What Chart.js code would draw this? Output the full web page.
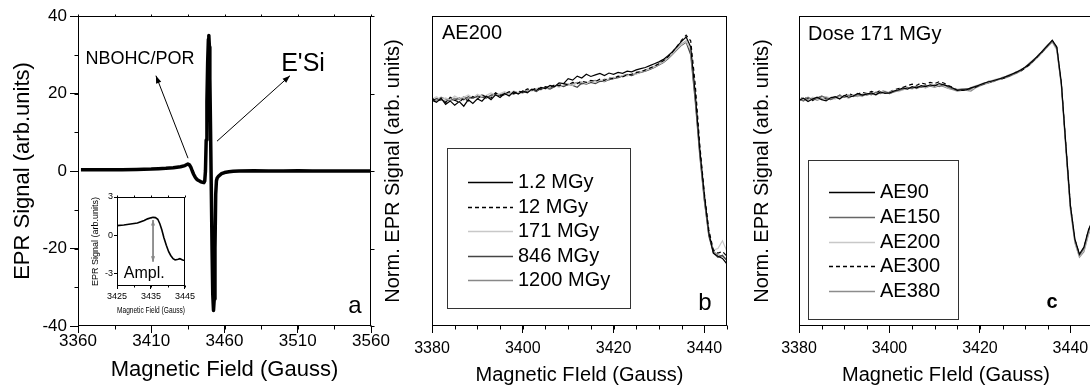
<!DOCTYPE html>
<html>
<head>
<meta charset="utf-8">
<script src="https://cdn.jsdelivr.net/npm/chart.js@4.4.0/dist/chart.umd.min.js"></script>
<style>
  html, body { margin: 0; padding: 0; background: #fff; overflow: hidden; width: 1090px; height: 392px; }
  canvas { position: absolute; top: 0; }
</style>
</head>
<body>
<canvas id="panelA" width="395" height="392" style="left:0;width:395px;height:392px"></canvas>
<canvas id="panelB" width="360" height="392" style="left:380px;width:360px;height:392px"></canvas>
<canvas id="panelC" width="360" height="392" style="left:740px;width:360px;height:392px"></canvas>
<canvas id="inset" width="114" height="128" style="left:84px;top:188px;width:114px;height:128px"></canvas>
<script>
// --- panel a: full spectrum ---
const fieldA = [3362, 3370, 3380, 3390, 3400, 3410, 3415, 3420, 3425, 3430, 3433, 3435, 3436, 3437, 3438,
  3439, 3440, 3441, 3442, 3443, 3444, 3445, 3446, 3446.5, 3447, 3447.5, 3448, 3448.5, 3449, 3449.3,
  3449.7, 3450, 3450.5, 3451, 3451.5, 3452, 3452.5, 3453, 3453.5, 3454, 3454.5, 3455, 3456, 3457, 3458,
  3460, 3463, 3466, 3470, 3480, 3490, 3500, 3510, 3520, 3530, 3540, 3550, 3560];
const signalA = [0.3, 0.3, 0.3, 0.35, 0.4, 0.5, 0.6, 0.7, 0.85, 1.1, 1.4, 1.8, 1.6, 1.0, 0.0,
  -0.9, -1.6, -2.1, -2.4, -2.6, -2.8, -2.9, -3.0, -2.6, 0, 8, 18, 28, 34, 35,
  32, 24, 10, -5, -20, -32, -36, -33, -20, -6, -2.5, -1.8, -1.3, -1.0, -0.7,
  -0.4, -0.2, -0.05, 0, 0.05, 0, 0, 0.05, 0, 0, 0, 0, 0];
const ticksAx = [3360, 3410, 3460, 3510, 3560];
const ticksAy = [-40, -20, 0, 20, 40];

// inset of panel a
const insetField = [3425, 3427, 3429, 3431, 3432, 3433, 3434, 3435, 3435.6, 3436.3, 3437, 3437.6,
  3438.2, 3438.8, 3439.5, 3440.2, 3440.8, 3441.5, 3442.1, 3443, 3443.5, 3444.3, 3445];
const insetSignal = [0.75, 0.8, 0.87, 0.95, 1.05, 1.15, 1.28, 1.36, 1.4, 1.38, 1.25, 0.9,
  0.4, -0.2, -0.8, -1.3, -1.6, -1.85, -1.95, -1.9, -1.85, -1.95, -2.0];
const ticksInsetX = [3425, 3435, 3445];
const ticksInsetY = [-3, 0, 3];

// --- panels b and c: normalised spectra ---
const fieldBC = [3380, 3381, 3382, 3383, 3384, 3385, 3386, 3387, 3388, 3389,
  3390, 3391, 3392, 3393, 3394, 3395, 3396, 3397, 3398, 3399,
  3400, 3401, 3402, 3403, 3404, 3405, 3406, 3407, 3408, 3409,
  3410, 3411, 3412, 3413, 3414, 3415, 3416, 3417, 3418, 3419,
  3420, 3421, 3422, 3423, 3424, 3425, 3426, 3427, 3428, 3429,
  3430, 3431, 3432, 3433, 3434, 3435, 3436, 3437, 3438, 3439,
  3440, 3441, 3442, 3443, 3444, 3445];
const ticksBCx = [3380, 3400, 3420, 3440];

const doseLabels = ['1.2 MGy', '12 MGy', '171 MGy', '846 MGy', '1200 MGy'];
const dose1_2 = [.728, .722, .735, .715, .726, .712, .724, .709, .73, .718,
  .733, .725, .741, .73, .746, .737, .75, .742, .756, .748,
  .758, .752, .764, .76, .77, .766, .776, .772, .784, .782,
  .798, .793, .806, .8, .812, .805, .81, .815, .808, .816,
  .812, .818, .815, .822, .82, .826, .83, .834, .84, .846,
  .852, .86, .872, .885, .902, .918, .932, .9, .75, .57,
  .425, .3, .235, .225, .218, .2];
const dose12 = [.735, .725, .73, .72, .738, .728, .722, .735, .726, .74,
  .732, .745, .738, .735, .752, .744, .748, .756, .75, .758,
  .754, .765, .76, .768, .764, .772, .769, .778, .775, .782,
  .778, .786, .782, .79, .786, .792, .789, .796, .792, .8,
  .798, .806, .804, .81, .812, .818, .82, .826, .832, .838,
  .846, .856, .868, .884, .902, .922, .938, .92, .78, .585,
  .43, .31, .245, .235, .24, .225];
const dose171 = [.732, .74, .728, .736, .73, .742, .734, .738, .745, .736,
  .748, .74, .744, .752, .745, .75, .756, .748, .758, .752,
  .756, .762, .758, .766, .77, .764, .772, .776, .77, .778,
  .782, .776, .784, .788, .782, .79, .786, .794, .79, .798,
  .8, .804, .808, .806, .814, .812, .82, .824, .83, .836,
  .844, .852, .864, .878, .894, .908, .918, .89, .745, .57,
  .42, .3, .245, .25, .275, .24];
const dose846 = [.726, .734, .73, .724, .732, .728, .736, .73, .74, .734,
  .742, .738, .735, .745, .748, .742, .746, .752, .748, .754,
  .752, .758, .762, .756, .766, .768, .764, .772, .776, .772,
  .78, .776, .77, .784, .78, .786, .782, .79, .788, .795,
  .798, .802, .806, .81, .808, .814, .818, .822, .828, .834,
  .842, .85, .862, .876, .892, .906, .915, .875, .725, .55,
  .405, .29, .235, .222, .228, .21];
const dose1200 = [.734, .728, .738, .732, .727, .735, .73, .74, .733, .737,
  .738, .746, .74, .742, .75, .746, .752, .748, .754, .75,
  .758, .754, .762, .766, .762, .77, .768, .774, .778, .774,
  .778, .782, .786, .78, .784, .79, .792, .788, .796, .794,
  .802, .8, .808, .812, .81, .816, .82, .826, .83, .838,
  .846, .854, .866, .88, .896, .91, .92, .885, .735, .56,
  .41, .295, .24, .23, .225, .215];

const aeLabels = ['AE90', 'AE150', 'AE200', 'AE300', 'AE380'];
const ae90 = [.728, .735, .724, .732, .738, .73, .726, .736, .74, .732,
  .744, .738, .742, .75, .745, .748, .752, .746, .755, .75,
  .752, .758, .762, .768, .764, .772, .768, .775, .772, .778,
  .775, .782, .778, .774, .768, .76, .762, .762, .768, .772,
  .778, .784, .788, .792, .796, .8, .806, .812, .818, .826,
  .835, .846, .86, .874, .89, .906, .922, .9, .785, .585,
  .39, .28, .232, .255, .31, .345];
const ae150 = [.732, .726, .738, .73, .734, .742, .736, .73, .738, .744,
  .738, .745, .74, .746, .742, .75, .746, .754, .75, .756,
  .75, .756, .76, .764, .77, .766, .774, .77, .776, .774,
  .778, .772, .78, .77, .765, .762, .764, .766, .764, .774,
  .776, .782, .79, .788, .795, .802, .804, .81, .82, .824,
  .836, .848, .858, .876, .888, .904, .918, .895, .78, .58,
  .385, .275, .228, .25, .305, .34];
const ae200 = [.735, .73, .728, .738, .734, .73, .74, .735, .732, .742,
  .74, .736, .746, .742, .74, .75, .748, .745, .752, .758,
  .754, .76, .756, .762, .768, .764, .77, .774, .77, .776,
  .772, .778, .775, .768, .766, .764, .765, .76, .77, .775,
  .78, .785, .786, .794, .798, .8, .808, .814, .816, .828,
  .834, .85, .862, .872, .892, .908, .916, .89, .775, .575,
  .38, .27, .225, .245, .3, .335];
const ae300 = [.73, .738, .733, .727, .736, .74, .732, .738, .735, .745,
  .742, .75, .744, .748, .754, .75, .757, .752, .76, .756,
  .755, .762, .766, .77, .775, .78, .776, .784, .78, .786,
  .782, .788, .784, .776, .77, .762, .76, .76, .766, .77,
  .776, .782, .786, .79, .796, .798, .804, .81, .816, .822,
  .832, .844, .858, .872, .888, .904, .92, .898, .782, .582,
  .388, .278, .23, .252, .308, .342];
const ae380 = [.726, .732, .73, .735, .728, .734, .738, .73, .736, .734,
  .74, .735, .744, .74, .748, .744, .75, .747, .752, .754,
  .75, .755, .758, .762, .766, .77, .766, .772, .768, .774,
  .77, .775, .772, .766, .762, .758, .76, .76, .758, .768,
  .774, .78, .784, .79, .794, .798, .802, .808, .815, .822,
  .832, .842, .856, .87, .886, .902, .916, .892, .776, .57,
  .375, .268, .222, .24, .295, .33];

Chart.defaults.font.family = "'Liberation Sans', Arial, sans-serif";
Chart.defaults.color = '#000';

const pts = (xs, ys) => xs.map((x, i) => ({ x, y: ys[i] }));
const asText = v => String(v);

// frame + minor ticks
const framePlugin = {
  id: 'frame',
  afterDatasetsDraw(chart, args, o) {
    const { ctx, chartArea: a, scales: { x, y } } = chart;
    const al = v => Math.round(v) + 0.5;
    const line = (x1, y1, x2, y2) => { ctx.beginPath(); ctx.moveTo(x1, y1); ctx.lineTo(x2, y2); ctx.stroke(); };
    ctx.save();
    ctx.strokeStyle = '#000';
    ctx.lineWidth = 1;
    const L = al(a.left), R = al(a.right - 1), T = al(a.top), B = al(a.bottom - 1);
    ctx.strokeRect(L, T, R - L, B - T);
    if (o.minorX) {
      for (let k = 0; x.min + k * o.minorX <= x.max + 1e-6; k++) {
        const p = al(x.getPixelForValue(x.min + k * o.minorX));
        line(p, B, p, B + o.minorLen);
      }
    }
    if (o.minorY) {
      for (let k = 0; y.min + k * o.minorY <= y.max + 1e-6; k++) {
        const p = al(y.getPixelForValue(y.min + k * o.minorY));
        line(L - o.minorLen, p, L, p);
      }
    }
    if (o.topStep) {
      for (let k = 0; x.min + k * o.topStep <= x.max + 1e-6; k++) {
        const p = al(x.getPixelForValue(x.min + k * o.topStep));
        line(p, T - o.topLen, p, T);
      }
    }
    if (o.rightStep) {
      for (let k = 0; y.min + k * o.rightStep <= y.max + 1e-6; k++) {
        const p = al(y.getPixelForValue(y.min + k * o.rightStep));
        line(R, p, R + o.rightLen, p);
      }
    }
    ctx.restore();
  }
};

// free texts and arrows
const notesPlugin = {
  id: 'notes',
  afterDatasetsDraw(chart, args, o) {
    const { ctx, chartArea: a, scales: { x, y } } = chart;
    const place = (n, px, py) => {
      if (n.anchor === 'data') return [x.getPixelForValue(px), y.getPixelForValue(py)];
      if (n.anchor === 'br') return [a.right + px, a.bottom + py];
      if (n.anchor === 'bl') return [a.left + px, a.bottom + py];
      return [a.left + px, a.top + py];
    };
    ctx.save();
    (o.arrows || []).forEach(n => {
      const [x1, y1] = place(n, n.from[0], n.from[1]);
      const [x2, y2] = place(n, n.to[0], n.to[1]);
      ctx.strokeStyle = n.color; ctx.fillStyle = n.color; ctx.lineWidth = n.width;
      ctx.beginPath(); ctx.moveTo(x1, y1); ctx.lineTo(x2, y2); ctx.stroke();
      const head = (hx, hy, ang) => {
        ctx.beginPath();
        ctx.moveTo(hx, hy);
        ctx.lineTo(hx - n.head * Math.cos(ang - 0.35), hy - n.head * Math.sin(ang - 0.35));
        ctx.lineTo(hx - n.head * Math.cos(ang + 0.35), hy - n.head * Math.sin(ang + 0.35));
        ctx.closePath(); ctx.fill();
      };
      const ang = Math.atan2(y2 - y1, x2 - x1);
      head(x2, y2, ang);
      if (n.both) head(x1, y1, ang + Math.PI);
    });
    (o.texts || []).forEach(n => {
      const [tx, ty] = place(n, n.x, n.y);
      ctx.font = n.font + " 'Liberation Sans', Arial, sans-serif";
      ctx.fillStyle = '#000';
      ctx.textAlign = n.align || 'left';
      ctx.textBaseline = n.baseline || 'alphabetic';
      ctx.fillText(n.text, tx, ty);
    });
    ctx.restore();
  }
};

// boxed legend inside the plot
const boxLegendPlugin = {
  id: 'boxLegend',
  afterDatasetsDraw(chart, args, o) {
    if (!o.rect) return;
    const { ctx, chartArea: a } = chart;
    const x0 = a.left, y0 = a.top;
    ctx.save();
    ctx.strokeStyle = '#333';
    ctx.lineWidth = 1;
    ctx.strokeRect(Math.round(x0 + o.rect[0]) + 0.5, Math.round(y0 + o.rect[1]) + 0.5, o.rect[2], o.rect[3]);
    ctx.font = o.font + " 'Liberation Sans', Arial, sans-serif";
    ctx.textBaseline = 'middle';
    ctx.textAlign = 'left';
    chart.data.datasets.forEach((ds, i) => {
      const ry = Math.round(y0 + o.row0 + i * o.rowStep) + 0.5;
      ctx.strokeStyle = ds.borderColor;
      ctx.lineWidth = 1.3;
      ctx.setLineDash(ds.borderDash || []);
      ctx.beginPath(); ctx.moveTo(x0 + o.line[0], ry); ctx.lineTo(x0 + o.line[1], ry); ctx.stroke();
      ctx.setLineDash([]);
      ctx.fillStyle = '#000';
      ctx.fillText(ds.label, x0 + o.textX, ry);
    });
    ctx.restore();
  }
};

Chart.register(framePlugin, notesPlugin, boxLegendPlugin);

const baseOptions = {
  responsive: false,
  animation: false,
  events: [],
  plugins: { legend: { display: false }, tooltip: { enabled: false } },
  elements: { point: { radius: 0 }, line: { tension: 0 } }
};

/* --- panel a --- */
new Chart(document.getElementById('panelA'), {
  type: 'line',
  data: {
    datasets: [{
      data: pts(fieldA, signalA),
      borderColor: '#000',
      borderWidth: 3.5,
      borderJoinStyle: 'round',
      fill: false
    }]
  },
  options: {
    ...baseOptions,
    layout: { padding: { top: 16, right: 24, bottom: 0, left: 0 } },
    scales: {
      x: {
        type: 'linear', min: 3360, max: 3560,
        afterBuildTicks: s => { s.ticks = ticksAx.map(v => ({ value: v })); },
        afterFit: s => { s.height = 66; },
        ticks: { font: { size: 17, lineHeight: 1 }, padding: 0, autoSkip: false, maxRotation: 0, callback: asText },
        grid: { drawOnChartArea: false, tickLength: 7, color: '#000' },
        border: { display: false },
        title: { display: true, text: 'Magnetic Field (Gauss)', font: { size: 22 }, padding: { top: 0, bottom: 9 } }
      },
      y: {
        type: 'linear', min: -40, max: 40,
        afterBuildTicks: s => { s.ticks = ticksAy.map(v => ({ value: v })); },
        afterFit: s => { s.width = 78; },
        ticks: { font: { size: 17 }, padding: 3, callback: asText },
        grid: { drawOnChartArea: false, tickLength: 8, color: '#000' },
        border: { display: false },
        title: { display: true, text: 'EPR Signal (arb.units)', font: { size: 22 }, padding: { top: 10, bottom: 0 } }
      }
    },
    plugins: {
      ...baseOptions.plugins,
      frame: { minorX: 25, minorY: 10, minorLen: 4, topStep: 25, topLen: 2, rightStep: 20, rightLen: 4 },
      notes: {
        arrows: [
          { anchor: 'data', from: [3435.1, 3.3], to: [3413.2, 24.6], color: '#000', width: 1, head: 8 },
          { anchor: 'data', from: [3454.9, 7.7], to: [3504.7, 24.6], color: '#000', width: 1, head: 8 }
        ],
        texts: [
          { anchor: 'data', text: 'NBOHC/POR', x: 3402.3, y: 28.8, font: '18px', align: 'center', baseline: 'middle' },
          { anchor: 'data', text: "E'Si", x: 3513.6, y: 27.6, font: '25px', align: 'center', baseline: 'middle' },
          { anchor: 'br', text: 'a', x: -16, y: -13, font: '24px', align: 'center' }
        ]
      }
    }
  }
});

/* --- inset --- */
new Chart(document.getElementById('inset'), {
  type: 'line',
  data: {
    datasets: [{ data: pts(insetField, insetSignal), borderColor: '#000', borderWidth: 1.6, fill: false }]
  },
  options: {
    ...baseOptions,
    layout: { padding: { top: 9, right: 6, bottom: 0, left: 0 } },
    scales: {
      x: {
        type: 'linear', min: 3425, max: 3445,
        afterBuildTicks: s => { s.ticks = ticksInsetX.map(v => ({ value: v })); },
        afterFit: s => { s.height = 30; },
        ticks: { font: { size: 9, lineHeight: 1 }, padding: 3, autoSkip: false, maxRotation: 0, callback: asText },
        grid: { drawOnChartArea: false, tickLength: 3, color: '#000' },
        border: { display: false },
        title: { display: true, text: 'Magnetic Field (Gauss)', font: { size: 9.5 }, padding: { top: 0, bottom: 0 } }
      },
      y: {
        type: 'linear', min: -4, max: 3,
        afterBuildTicks: s => { s.ticks = ticksInsetY.map(v => ({ value: v })); },
        afterFit: s => { s.width = 33; },
        ticks: { font: { size: 9 }, padding: 1, callback: asText },
        grid: { drawOnChartArea: false, tickLength: 3, color: '#000' },
        border: { display: false },
        title: { display: true, text: 'EPR Signal (arb.units)', font: { size: 9 }, padding: { top: 6, bottom: 0 } }
      }
    },
    plugins: {
      ...baseOptions.plugins,
      frame: { minorX: 5, minorLen: 2, topStep: 5, topLen: 2 },
      notes: {
        arrows: [
          { anchor: 'data', from: [3435.6, 1.2], to: [3435.6, -2.1], color: '#888', width: 1.8, head: 6, both: true }
        ],
        texts: [
          { anchor: 'data', text: 'Ampl.', x: 3433, y: -3.04, font: '16px', align: 'center', baseline: 'middle' }
        ]
      }
    }
  }
});

/* --- panels b and c --- */
function spectrumOptions(yPad, padRight, yWidth, legend, texts) {
  return {
    ...baseOptions,
    layout: { padding: { top: 16, right: padRight, bottom: 0, left: 0 } },
    scales: {
      x: {
        type: 'linear', min: 3380, max: 3445,
        afterBuildTicks: s => { s.ticks = ticksBCx.map(v => ({ value: v })); },
        afterFit: s => { s.height = 66; },
        ticks: { font: { size: 16, lineHeight: 1 }, padding: 8, autoSkip: false, maxRotation: 0, callback: asText },
        grid: { drawOnChartArea: false, tickLength: 7, color: '#000' },
        border: { display: false },
        title: { display: true, text: 'Magnetic FIeld (Gauss)', font: { size: 20 }, padding: { top: 0, bottom: 5 } }
      },
      y: {
        type: 'linear', min: 0, max: 1,
        afterFit: s => { s.width = yWidth; },
        ticks: { display: false },
        grid: { display: false },
        border: { display: false },
        title: { display: true, text: 'Norm. EPR Signal (arb. units)', font: { size: 20 }, padding: { top: yPad, bottom: 0 } }
      }
    },
    plugins: {
      ...baseOptions.plugins,
      frame: { minorX: 5, minorLen: 4 },
      boxLegend: legend,
      notes: { texts }
    }
  };
}

new Chart(document.getElementById('panelB'), {
  type: 'line',
  data: {
    datasets: [
      { label: doseLabels[0], data: pts(fieldBC, dose1_2), borderColor: '#000', borderWidth: 1.2 },
      { label: doseLabels[1], data: pts(fieldBC, dose12), borderColor: '#000', borderWidth: 1.2, borderDash: [4, 3] },
      { label: doseLabels[2], data: pts(fieldBC, dose171), borderColor: '#c8c8c8', borderWidth: 1.2 },
      { label: doseLabels[3], data: pts(fieldBC, dose846), borderColor: '#444', borderWidth: 1.2 },
      { label: doseLabels[4], data: pts(fieldBC, dose1200), borderColor: '#888', borderWidth: 1.2 }
    ]
  },
  options: spectrumOptions(1, 13, 52,
    { rect: [15, 132, 183, 160], line: [36, 81], textX: 86, row0: 166, rowStep: 24.5, font: '20px' },
    [
      { anchor: 'tl', text: 'AE200', x: 10, y: 23, font: '20px' },
      { anchor: 'br', text: 'b', x: -22, y: -16, font: '24px', align: 'center' }
    ])
});

new Chart(document.getElementById('panelC'), {
  type: 'line',
  data: {
    datasets: [
      { label: aeLabels[0], data: pts(fieldBC, ae90), borderColor: '#000', borderWidth: 1.2 },
      { label: aeLabels[1], data: pts(fieldBC, ae150), borderColor: '#666', borderWidth: 1.2 },
      { label: aeLabels[2], data: pts(fieldBC, ae200), borderColor: '#c8c8c8', borderWidth: 1.2 },
      { label: aeLabels[3], data: pts(fieldBC, ae300), borderColor: '#000', borderWidth: 1.2, borderDash: [4, 3] },
      { label: aeLabels[4], data: pts(fieldBC, ae380), borderColor: '#8c8c8c', borderWidth: 1.2 }
    ]
  },
  options: spectrumOptions(10, 7, 59,
    { rect: [9, 144, 150, 159], line: [30, 76], textX: 81, row0: 176, rowStep: 24.75, font: '20px' },
    [
      { anchor: 'tl', text: 'Dose 171 MGy', x: 9, y: 24, font: '20px' },
      { anchor: 'bl', text: 'c', x: 253, y: -18, font: 'bold 20px', align: 'center' }
    ])
});
</script>
</body>
</html>
